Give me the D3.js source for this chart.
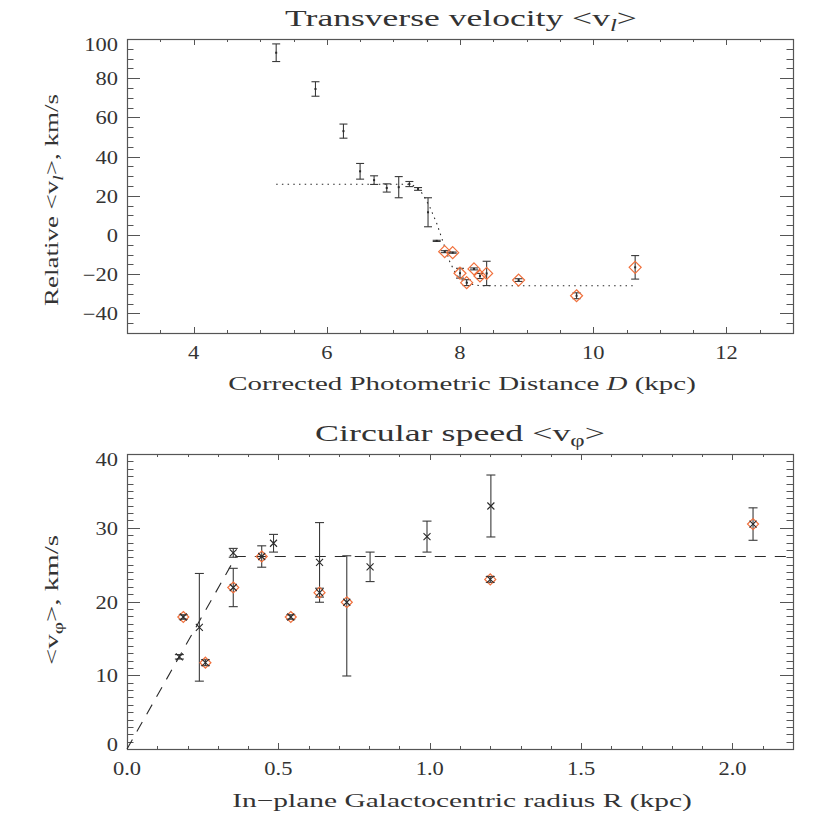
<!DOCTYPE html>
<html><head><meta charset="utf-8">
<script src="https://cdn.jsdelivr.net/npm/d3@7"></script>
<style>
body{margin:0;background:#fff}
svg{display:block}
text{font-family:"Liberation Serif","DejaVu Serif",serif;fill:#333}
</style>
</head><body>
<svg id="c" width="830" height="830"></svg>
<script>
// ---------- Top panel data: transverse velocity vs distance ----------
const topD   = [5.24,5.83,6.25,6.50,6.71,6.90,7.08,7.24,7.37,7.52,7.65,7.77,7.89,8.00,8.10,8.21,8.30,8.40,8.88,9.75,10.63];
const topV   = [93,74.5,53,32.5,28,24,24.4,26,23.5,11.6,-3,-8.5,-9,-19.5,-24.3,-17.3,-20.9,-19.6,-23,-31,-16.5];
const topErr = [4.5,3.7,3.6,4,2.2,2.1,5.4,1.3,0.7,7.4,0.3,0.5,0.3,2.5,1.5,0.5,1.3,6.2,0.7,1.5,6];
const topDiamond = [0,0,0,0,0,0,0,0,0,0,0,1,1,1,1,1,1,1,1,1,1];
// model curve (dotted)
const modelD = [5.24,7.25,7.35,7.45,7.55,7.65,7.75,7.85,7.95,8.05,8.15,8.3,10.6];
const modelV = [25.9,25.9,24.5,20.5,14,6,-4,-14,-20.5,-23.5,-25,-25.9,-25.9];
const topXTicks = [4,6,8,10,12];
const topYTicks = [-40,-20,0,20,40,60,80,100];

// ---------- Bottom panel data: circular speed vs radius ----------
const botR     = [0.173,0.186,0.239,0.259,0.351,0.351,0.445,0.484,0.541,0.636,0.636,0.726,0.803,0.991,1.202,1.200,2.068];
const botV     = [12.5,17.9,16.5,11.7,26.6,21.9,26.1,27.9,17.9,25.3,21.2,19.9,24.7,28.8,32.95,23.0,30.5];
const botErrLo = [0.3,0.3,7.3,0.4,0.6,2.6,1.45,1.2,0.3,5.4,0.6,10.0,2.0,2.1,4.2,0.4,2.2];
const botErrHi = [0.3,0.3,7.3,0.4,0.6,2.6,1.45,1.2,0.3,5.4,0.6,6.3,2.0,2.1,4.2,0.4,2.2];
const botDiamond = [0,1,0,1,0,1,1,0,1,0,1,1,0,0,0,1,1];
// flat rotation model (dashed)
const flatR = [0,0.36,2.2];
const flatV = [0,26.1,26.1];
const botXTicks = [0,0.5,1.0,1.5,2.0];
const botYTicks = [0,10,20,30,40];

const svg = d3.select("#c");
const AX = "#555", INK = "#2a2a2a", ORANGE = "#f0703c";
const TICK_FS = 18, TICK_SX = 1.25;

function fit(sel, width) {
  const w = sel.node().getBBox().width;
  return w > 0 ? width / w : 1;
}

function drawPanel(o) {
  const x = d3.scaleLinear().domain(o.xd).range([o.x0, o.x1]);
  const y = d3.scaleLinear().domain(o.yd).range([o.y1, o.y0]);
  const g = svg.append("g");
  g.append("rect").attr("x", o.x0 + 0.5).attr("y", o.y0 + 0.5)
    .attr("width", o.x1 - o.x0).attr("height", o.y1 - o.y0)
    .attr("fill", "none").attr("stroke", AX).attr("stroke-width", 1.2);
  const tk = g.append("g").attr("stroke", AX).attr("stroke-width", 1);
  const xMinor = d3.range(o.xd[0], o.xd[1] + 1e-9, o.xMinorStep);
  const yMinor = d3.range(o.yd[0], o.yd[1] + 1e-9, o.yMinorStep);
  const isMajor = (v, arr) => arr.some(a => Math.abs(a - v) < 1e-6);
  xMinor.forEach(v => {
    const L = isMajor(v, o.xTicks) ? o.xLenMaj : o.xLenMin;
    const px = Math.round(x(v)) + 0.5;
    tk.append("line").attr("x1", px).attr("x2", px).attr("y1", o.y1).attr("y2", o.y1 - L);
    tk.append("line").attr("x1", px).attr("x2", px).attr("y1", o.y0).attr("y2", o.y0 + L);
  });
  yMinor.forEach(v => {
    const L = isMajor(v, o.yTicks) ? o.yLenMaj : o.yLenMin;
    const py = Math.round(y(v)) + 0.5;
    tk.append("line").attr("y1", py).attr("y2", py).attr("x1", o.x0).attr("x2", o.x0 + L);
    tk.append("line").attr("y1", py).attr("y2", py).attr("x1", o.x1).attr("x2", o.x1 - L);
  });
  // tick labels
  o.xTicks.forEach(v => {
    g.append("text").attr("transform", `translate(${x(v)},${o.y1 + 26}) scale(${TICK_SX},1)`)
      .attr("text-anchor", "middle").attr("font-size", TICK_FS).text(o.xFmt(v));
  });
  o.yTicks.forEach(v => {
    let py = y(v) + 7;
    if (Math.abs(v - o.yd[1]) < 1e-6) py += 5;
    if (Math.abs(v - o.yd[0]) < 1e-6) py -= 5;
    g.append("text").attr("transform", `translate(${o.x0 - 9},${py}) scale(${TICK_SX},1)`)
      .attr("text-anchor", "end").attr("font-size", TICK_FS).text(String(v).replace("-", "\u2212"));
  });
  return {x, y, g};
}

function addText(cx, cy, width, build, rotate) {
  const t = svg.append("text").attr("text-anchor", "middle").attr("font-size", 19);
  build(t);
  const k = fit(t, width);
  t.attr("transform", `translate(${cx},${cy})` + (rotate ? " rotate(-90)" : "") + ` scale(${k},1)`);
  return t;
}

// ================= TOP PANEL =================
const T = drawPanel({
  xd: [3, 13], yd: [-50, 100], x0: 127, x1: 793, y0: 39, y1: 333,
  xTicks: topXTicks, yTicks: topYTicks, xMinorStep: 0.5, yMinorStep: 5,
  xLenMaj: 6, xLenMin: 3, yLenMaj: 13, yLenMin: 6.5, xFmt: d => String(d)
});
// dotted model
T.g.append("path")
  .attr("d", d3.line().x((d, i) => T.x(modelD[i])).y((d, i) => T.y(modelV[i]))(modelD))
  .attr("fill", "none").attr("stroke", INK).attr("stroke-width", 1.1).attr("stroke-dasharray", "1.5,4.2");
// error bars
topD.forEach((d, i) => {
  const px = T.x(d), yl = T.y(topV[i] - topErr[i]), yh = T.y(topV[i] + topErr[i]);
  const e = T.g.append("g").attr("stroke", "#3a3a3a").attr("stroke-width", 1.1);
  e.append("line").attr("x1", px).attr("x2", px).attr("y1", yl).attr("y2", yh);
  e.append("line").attr("x1", px - 4).attr("x2", px + 4).attr("y1", yl).attr("y2", yl);
  e.append("line").attr("x1", px - 4).attr("x2", px + 4).attr("y1", yh).attr("y2", yh);
  T.g.append("rect").attr("x", px - 1).attr("y", T.y(topV[i]) - 1).attr("width", 2).attr("height", 2).attr("fill", INK);
  if (topDiamond[i]) {
    const py = T.y(topV[i]), s = 6;
    T.g.append("path").attr("d", `M${px},${py - s}L${px + s},${py}L${px},${py + s}L${px - s},${py}Z`)
      .attr("fill", "none").attr("stroke", ORANGE).attr("stroke-width", 1.2);
  }
});

// ================= BOTTOM PANEL =================
const B = drawPanel({
  xd: [0, 2.2], yd: [0, 40], x0: 127, x1: 793, y0: 454, y1: 749,
  xTicks: botXTicks, yTicks: botYTicks, xMinorStep: 0.1, yMinorStep: 1,
  xLenMaj: 6, xLenMin: 3, yLenMaj: 13, yLenMin: 6.5, xFmt: d => d.toFixed(1)
});
B.g.append("path")
  .attr("d", d3.line().x((d, i) => B.x(flatR[i])).y((d, i) => B.y(flatV[i]))(flatR))
  .attr("fill", "none").attr("stroke", INK).attr("stroke-width", 1.1).attr("stroke-dasharray", "11,9");
botR.forEach((r, i) => {
  const px = B.x(r), py = B.y(botV[i]);
  const yl = B.y(botV[i] - botErrLo[i]), yh = B.y(botV[i] + botErrHi[i]);
  const e = B.g.append("g").attr("stroke", "#3a3a3a").attr("stroke-width", 1.1);
  e.append("line").attr("x1", px).attr("x2", px).attr("y1", yl).attr("y2", yh);
  e.append("line").attr("x1", px - 4.5).attr("x2", px + 4.5).attr("y1", yl).attr("y2", yl);
  e.append("line").attr("x1", px - 4.5).attr("x2", px + 4.5).attr("y1", yh).attr("y2", yh);
  if (botDiamond[i]) {
    const s = 5.5;
    B.g.append("path").attr("d", `M${px},${py - s}L${px + s},${py}L${px},${py + s}L${px - s},${py}Z`)
      .attr("fill", "none").attr("stroke", ORANGE).attr("stroke-width", 1.2);
  }
  const m = 3.5;
  B.g.append("path").attr("d", `M${px - m},${py - m}L${px + m},${py + m}M${px - m},${py + m}L${px + m},${py - m}`)
    .attr("stroke", INK).attr("stroke-width", 1.1);
});

// ================= TEXTS =================
addText(461, 26, 352, t => {
  t.attr("font-size", 23);
  t.append("tspan").text("Transverse velocity <v");
  t.append("tspan").attr("font-style", "italic").attr("font-size", 16).attr("dy", 5).text("l");
  t.append("tspan").attr("dy", -5).text(">");
});
addText(462, 390, 468, t => {
  t.append("tspan").text("Corrected Photometric Distance ");
  t.append("tspan").attr("font-style", "italic").text("D");
  t.append("tspan").text(" (kpc)");
});
addText(58, 200, 212, t => {
  t.append("tspan").text("Relative <v");
  t.append("tspan").attr("font-style", "italic").attr("font-size", 14).attr("dy", 5).text("l");
  t.append("tspan").attr("dy", -5).text(">, km/s");
}, true);
addText(460, 441, 290, t => {
  t.attr("font-size", 23);
  t.append("tspan").text("Circular speed <v");
  t.append("tspan").attr("font-size", 16).attr("dy", 5).text("\u03C6");
  t.append("tspan").attr("dy", -5).text(">");
});
addText(462, 807, 460, t => {
  t.append("tspan").text("In\u2212plane Galactocentric radius R (kpc)");
});
addText(58, 600, 130, t => {
  t.append("tspan").text("<v");
  t.append("tspan").attr("font-size", 14).attr("dy", 5).text("\u03C6");
  t.append("tspan").attr("dy", -5).text(">, km/s");
}, true);
</script>
</body></html>
